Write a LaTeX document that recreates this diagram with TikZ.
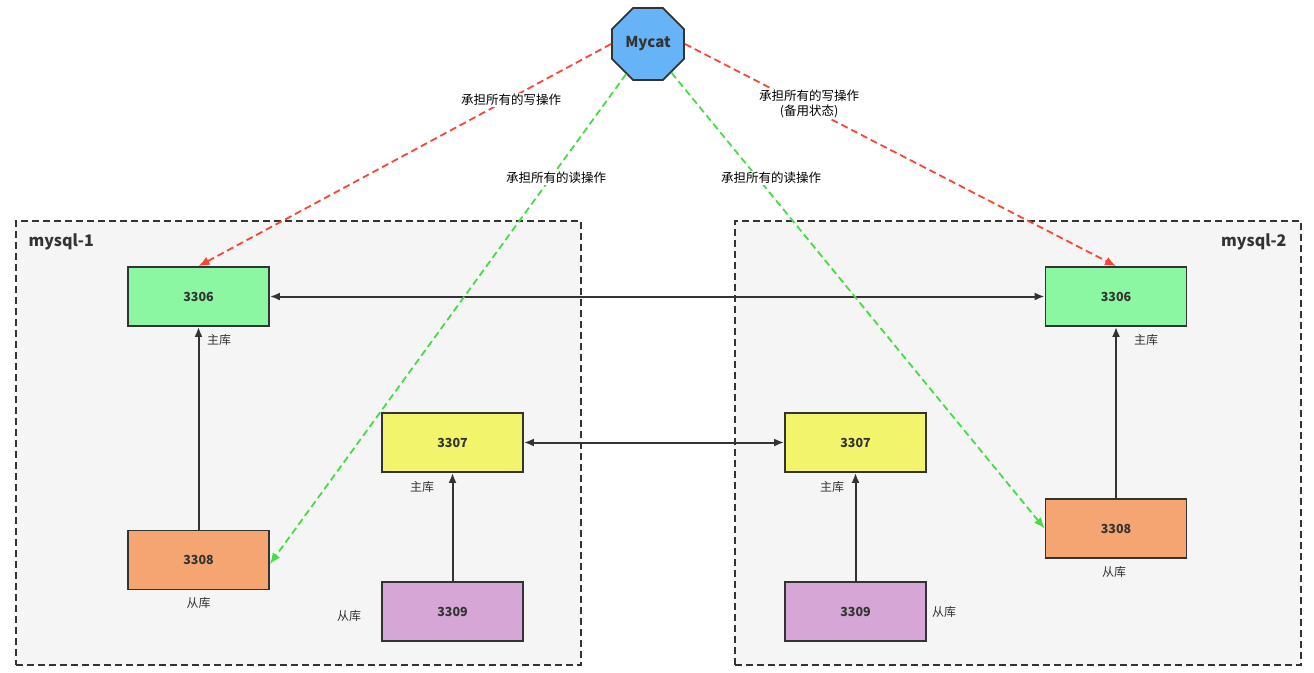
\documentclass[tikz,border=0pt]{standalone}
\usepackage{fontspec}
\setmainfont{Noto Sans CJK SC}
\usetikzlibrary{arrows.meta,shapes.geometric}
\definecolor{bd}{HTML}{333333}
\definecolor{grp}{HTML}{F5F5F5}
\definecolor{cgreen}{HTML}{8CF7A3}
\definecolor{cyellow}{HTML}{F2F56B}
\definecolor{corange}{HTML}{F5A572}
\definecolor{cpurple}{HTML}{D6A6D6}
\definecolor{cblue}{HTML}{66B3F7}
\definecolor{lred}{HTML}{FF4433}
\definecolor{lgreen}{HTML}{44DD44}
\tikzset{
  grpbox/.style={draw=bd, fill=grp, dashed, dash pattern=on 7pt off 4pt, line width=1.8pt},
  db/.style={draw=bd, line width=1.8pt, minimum width=141pt, minimum height=59pt, inner sep=0pt, font=\fontsize{12.5}{14}\selectfont\bfseries, text=bd},
  lab/.style={font=\fontsize{12}{14}\selectfont, text=bd, inner sep=1pt},
  elab/.style={font=\fontsize{12.5}{15}\selectfont, text=black, fill=white, inner sep=1pt, align=center},
  blk/.style={draw=bd, line width=2pt, -{Latex[length=10pt,width=8pt]}},
  blk2/.style={draw=bd, line width=2pt, {Latex[length=10pt,width=8pt]}-{Latex[length=10pt,width=8pt]}},
  wr/.style={draw=lred, line width=1.8pt, dash pattern=on 7pt off 4pt, -{Latex[length=11pt,width=9pt]}},
  rd/.style={draw=lgreen, line width=1.8pt, dash pattern=on 7pt off 4pt, -{Latex[length=11pt,width=9pt]}},
}
\begin{document}
\begin{tikzpicture}[x=1pt,y=-1pt]
\useasboundingbox (0,0) rectangle (1314,672);
% groups
\node[grpbox, minimum width=565pt, minimum height=444pt, inner sep=0pt, anchor=north west] (g1) at (15,220) {};
\node[grpbox, minimum width=566pt, minimum height=444pt, inner sep=0pt, anchor=north west] (g2) at (734,220) {};
\node[font=\fontsize{16}{18}\selectfont\bfseries, text=bd, anchor=west] (g1t) at (25,242) {mysql-1};
\node[font=\fontsize{16}{18}\selectfont\bfseries, text=bd, anchor=east] (g2t) at (1290,242) {mysql-2};
% mycat
\node[regular polygon, regular polygon sides=8, minimum size=78pt, inner sep=0pt, draw=bd, line width=1.8pt, fill=cblue, font=\fontsize{15}{17}\selectfont\bfseries, text=bd] (mycat) at (648,44) {Mycat};
% db nodes
\node[db, fill=cgreen] (l3306) at (198.5,296.5) {3306};
\node[db, fill=corange] (l3308) at (198.5,560) {3308};
\node[db, fill=cyellow] (l3307) at (452.5,442.5) {3307};
\node[db, fill=cpurple] (l3309) at (452.5,611.5) {3309};
\node[db, fill=cgreen] (r3306) at (1116,296.5) {3306};
\node[db, fill=cyellow] (r3307) at (855.5,442.5) {3307};
\node[db, fill=cpurple] (r3309) at (855.5,611.5) {3309};
\node[db, fill=corange] (r3308) at (1116,528.5) {3308};
% node labels
\node[lab] (t1) at (219,340) {主库};
\node[lab] (t2) at (198.5,603) {从库};
\node[lab] (t3) at (422,487) {主库};
\node[lab] (t4) at (349,616) {从库};
\node[lab] (t5) at (1146,340) {主库};
\node[lab] (t6) at (832,487) {主库};
\node[lab] (t7) at (1114,572) {从库};
\node[lab] (t8) at (944,612) {从库};
% black connectors
\draw[blk2] (l3306.east) -- (r3306.west);
\draw[blk2] (l3307.east) -- (r3307.west);
\draw[blk] (l3308.north) -- (l3306.south);
\draw[blk] (l3309.north) -- (l3307.south);
\draw[blk] (r3309.north) -- (r3307.south);
\draw[blk] (r3308.north) -- (r3306.south);
% mycat connectors
\draw[wr] (mycat.west) -- (l3306.north);
\draw[wr] (mycat.east) -- (r3306.north);
\draw[rd] (mycat) -- ([yshift=-4pt]l3308.east);
\draw[rd] (mycat) -- (r3308.west);
% edge labels
\node[elab] (e1) at (511,100) {承担所有的写操作};
\node[elab] (e2) at (556,178) {承担所有的读操作};
\node[elab] (e3) at (771,178) {承担所有的读操作};
\node[elab] (e4) at (809,104) {承担所有的写操作\\(备用状态)};
\end{tikzpicture}
\end{document}
